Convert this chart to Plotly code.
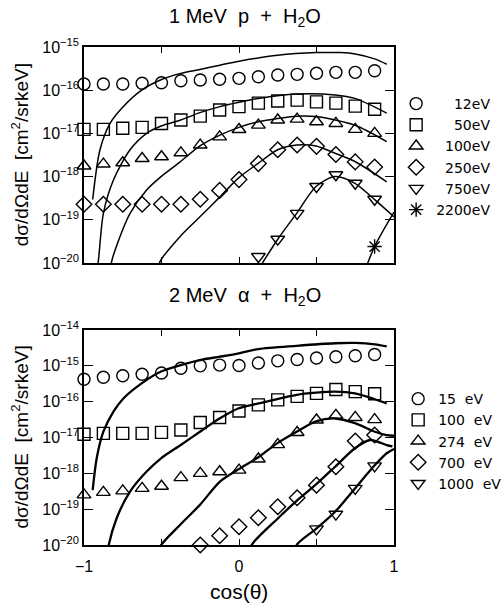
import plotly.graph_objects as go

# ---------------- data ----------------
COS = [-1.0, -0.875, -0.75, -0.625, -0.5, -0.375, -0.25, -0.125,
       0.0, 0.125, 0.25, 0.375, 0.5, 0.625, 0.75, 0.875]

# Top panel: 1 MeV p + H2O (measured points)
p_12 = [1.39e-16, 1.39e-16, 1.39e-16, 1.45e-16, 1.49e-16, 1.66e-16, 1.72e-16, 1.79e-16,
        1.88e-16, 2.05e-16, 2.25e-16, 2.33e-16, 2.46e-16, 2.59e-16, 2.59e-16, 2.82e-16]
p_50 = [1.24e-17, 1.24e-17, 1.32e-17, 1.38e-17, 1.70e-17, 2.04e-17, 2.51e-17, 3.47e-17,
        4.17e-17, 5.01e-17, 5.62e-17, 5.89e-17, 5.37e-17, 5.01e-17, 4.27e-17, 3.63e-17]
p_100 = [1.76e-18, 1.95e-18, 2.09e-18, 2.63e-18, 2.88e-18, 3.55e-18, 5.37e-18, 8.32e-18,
         1.23e-17, 1.55e-17, 2.04e-17, 2.14e-17, 1.86e-17, 1.70e-17, 1.24e-17, 1.00e-17]
p_250 = [2.29e-19, 2.29e-19, 2.29e-19, 2.29e-19, 2.29e-19, 2.29e-19, 2.99e-19, 4.79e-19,
         8.51e-19, 2.00e-18, 4.17e-18, 5.37e-18, 5.01e-18, 3.24e-18, 2.19e-18, 1.66e-18]
p_750_x = [0.125, 0.25, 0.375, 0.5, 0.625, 0.75, 0.875]
p_750 = [1.41e-20, 3.55e-20, 1.41e-19, 5.89e-19, 1.10e-18, 7.00e-19, 2.99e-19]
p_2200_x = [0.875]
p_2200 = [2.40e-20]

# Top panel theory curves
c12_x = [-0.944, -0.897, -0.832, -0.746, -0.628, -0.503, -0.376, -0.252, -0.123, 0.0,
         0.25, 0.5, 0.65, 0.75, 0.88, 0.953]
c12_y = [2.95e-19, 4.17e-18, 1.70e-17, 4.17e-17, 1.00e-16, 1.74e-16, 2.45e-16, 3.02e-16,
         3.80e-16, 4.68e-16, 6.46e-16, 7.41e-16, 7.41e-16, 6.92e-16, 5.25e-16, 3.98e-16]
c50_x = [-0.92, -0.908, -0.875, -0.81, -0.703, -0.596, -0.503, -0.376, -0.252, -0.123,
         0.0, 0.125, 0.372, 0.62, 0.748, 0.953]
c50_y = [6.31e-21, 1.07e-20, 1.41e-19, 8.32e-19, 4.17e-18, 1.00e-17, 1.48e-17, 2.04e-17,
         3.02e-17, 4.17e-17, 5.25e-17, 6.46e-17, 8.13e-17, 7.76e-17, 6.46e-17, 2.95e-17]
c100_x = [-0.83, -0.822, -0.768, -0.703, -0.596, -0.503, -0.376, -0.252, -0.123, 0.0,
          0.125, 0.372, 0.497, 0.748, 0.953]
c100_y = [6.31e-21, 1.07e-20, 4.07e-20, 1.41e-19, 4.90e-19, 1.00e-18, 2.24e-18, 5.13e-18,
          9.12e-18, 1.38e-17, 1.86e-17, 2.51e-17, 2.45e-17, 1.55e-17, 6.46e-18]
c250_x = [-0.52, -0.51, -0.381, -0.252, -0.123, -0.006, 0.125, 0.25, 0.372, 0.497,
          0.62, 0.748, 0.953]
c250_y = [6.31e-21, 1.07e-20, 4.07e-20, 1.17e-19, 3.39e-19, 9.12e-19, 2.04e-18, 4.17e-18,
          5.37e-18, 5.13e-18, 3.47e-18, 2.24e-18, 7.59e-19]
c750_x = [0.125, 0.25, 0.372, 0.497, 0.62, 0.748, 0.877, 1.0]
c750_y = [7.08e-21, 3.55e-20, 1.41e-19, 5.89e-19, 1.00e-18, 7.00e-19, 2.88e-19, 1.17e-19]
c2200_x = [0.815, 0.877, 1.0]
c2200_y = [7.08e-21, 2.51e-20, 1.51e-19]

# Bottom panel: 2 MeV alpha + H2O (measured points)
a_15 = [4.24e-16, 4.79e-16, 5.27e-16, 5.83e-16, 6.31e-16, 8.53e-16, 1.00e-15, 1.05e-15,
        1.02e-15, 1.20e-15, 1.38e-15, 1.50e-15, 1.66e-15, 1.80e-15, 1.91e-15, 2.07e-15]
a_100 = [1.23e-17, 1.30e-17, 1.30e-17, 1.30e-17, 1.39e-17, 1.62e-17, 2.63e-17, 3.63e-17,
         5.50e-17, 8.13e-17, 1.12e-16, 1.41e-16, 1.70e-16, 2.19e-16, 1.91e-16, 1.66e-16]
a_274 = [2.51e-19, 2.95e-19, 3.24e-19, 3.80e-19, 4.37e-19, 7.59e-19, 1.00e-18, 1.11e-18,
         1.23e-18, 2.51e-18, 6.31e-18, 1.38e-17, 3.09e-17, 4.17e-17, 3.63e-17, 3.16e-17]
a_700_x = [-0.25, -0.125, 0.0, 0.125, 0.25, 0.375, 0.5, 0.625, 0.75, 0.875]
a_700 = [1.00e-20, 1.82e-20, 3.24e-20, 5.75e-20, 1.17e-19, 2.09e-19, 4.68e-19, 1.53e-18,
         7.94e-18, 1.17e-17]
a_1000_x = [0.5, 0.625, 0.75, 0.875]
a_1000 = [2.82e-20, 7.24e-20, 3.80e-19, 1.62e-18]

# Bottom panel theory curves
d15_x = [-0.944, -0.918, -0.875, -0.81, -0.746, -0.628, -0.503, -0.376, -0.252, -0.123,
         0.0, 0.125, 0.372, 0.62, 0.75, 0.877, 0.953]
d15_y = [3.39e-19, 2.63e-18, 1.45e-17, 5.25e-17, 1.23e-16, 3.24e-16, 6.92e-16, 1.05e-15,
         1.45e-15, 1.80e-15, 2.24e-15, 2.95e-15, 3.63e-15, 4.27e-15, 4.37e-15, 3.98e-15,
         3.47e-15]
d100_x = [-0.85, -0.843, -0.79, -0.703, -0.596, -0.503, -0.376, -0.252, -0.123, -0.006,
          0.125, 0.372, 0.497, 0.62, 0.748, 0.877, 0.953]
d100_y = [5.01e-21, 8.91e-21, 5.50e-20, 3.09e-19, 1.12e-18, 2.63e-18, 6.17e-18, 1.45e-17,
          3.43e-17, 6.46e-17, 8.91e-17, 1.55e-16, 1.78e-16, 1.91e-16, 1.70e-16, 1.17e-16,
          8.91e-17]
d274_x = [-0.52, -0.51, -0.381, -0.252, -0.123, 0.0, 0.125, 0.25, 0.372, 0.497,
          0.62, 0.748, 0.877, 0.953, 1.0]
d274_y = [5.01e-21, 8.91e-21, 3.63e-20, 1.32e-19, 5.89e-19, 1.32e-18, 2.82e-18, 7.08e-18,
          1.45e-17, 2.82e-17, 3.39e-17, 2.51e-17, 1.45e-17, 1.17e-17, 1.12e-17]
d700_x = [0.07, 0.082, 0.25, 0.372, 0.497, 0.62, 0.748, 0.845, 0.953, 0.99]
d700_y = [5.01e-21, 1.00e-20, 5.50e-20, 1.70e-19, 4.90e-19, 1.53e-18, 5.01e-18, 8.51e-18,
          6.17e-18, 5.62e-18]
d1000_x = [0.36, 0.372, 0.497, 0.62, 0.748, 0.877, 0.953, 1.0]
d1000_y = [5.01e-21, 1.00e-20, 2.82e-20, 8.51e-20, 3.80e-19, 1.70e-18, 3.63e-18, 4.79e-18]

top_labels = ["\u2007\u200712eV", "\u2007\u200750eV", "\u2007100eV", "\u2007250eV",
              "\u2007750eV", "2200eV"]
bot_labels = ["15\u00a0\u00a0eV", "100\u00a0\u00a0eV", "274\u00a0\u00a0eV",
              "700\u00a0\u00a0eV", "1000\u00a0\u00a0eV"]
symbols = ["circle-open", "square-open", "triangle-up-open", "diamond-open",
           "triangle-down-open", "asterisk-open"]

top_tick_exp = [-20, -19, -18, -17, -16, -15]
bot_tick_exp = [-20, -19, -18, -17, -16, -15, -14]

# ---------------- figure ----------------
FONT = "Liberation Sans, Arial, sans-serif"
LFONT = "DejaVu Sans, Liberation Sans, sans-serif"
fig = go.Figure()

def add_curve(x, y, xa, ya, w):
    fig.add_trace(go.Scatter(x=x, y=y, mode="lines",
                             line=dict(color="black", width=w, shape="spline", smoothing=0.8),
                             xaxis=xa, yaxis=ya, showlegend=False, hoverinfo="skip"))

def add_pts(x, y, xa, ya, sym, name, legend):
    fig.add_trace(go.Scatter(x=x, y=y, mode="markers", name=name, legend=legend,
                             marker=dict(symbol=sym, size=12, color="black",
                                         line=dict(color="black", width=1.4)),
                             xaxis=xa, yaxis=ya, cliponaxis=False))

# top curves
for cx, cy in [(c12_x, c12_y), (c50_x, c50_y), (c100_x, c100_y), (c250_x, c250_y),
               (c750_x, c750_y), (c2200_x, c2200_y)]:
    add_curve(cx, cy, "x", "y", 1.5)
top_pts = [(COS, p_12), (COS, p_50), (COS, p_100), (COS, p_250), (p_750_x, p_750),
           (p_2200_x, p_2200)]
for (px, py), sym, lab in zip(top_pts, symbols, top_labels):
    add_pts(px, py, "x", "y", sym, lab, "legend")

# bottom curves
for cx, cy in [(d15_x, d15_y), (d100_x, d100_y), (d274_x, d274_y), (d700_x, d700_y),
               (d1000_x, d1000_y)]:
    add_curve(cx, cy, "x2", "y2", 2.3)
bot_pts = [(COS, a_15), (COS, a_100), (COS, a_274), (a_700_x, a_700), (a_1000_x, a_1000)]
for (px, py), sym, lab in zip(bot_pts, symbols[:5], bot_labels):
    add_pts(px, py, "x2", "y2", sym, lab, "legend2")

axis_common = dict(showline=True, linecolor="black", linewidth=1.5, mirror="ticks",
                   ticks="inside", tickcolor="black", tickwidth=1.3, showgrid=False,
                   zeroline=False, tickfont=dict(family=FONT, size=16, color="black"))

fig.update_layout(
    width=504, height=609,
    margin=dict(l=84, r=110, t=47, b=64, autoexpand=False),
    paper_bgcolor="white", plot_bgcolor="white",
    font=dict(family=FONT, color="black"),
    xaxis=dict(domain=[0, 1], range=[-1, 1], anchor="y", tickvals=[-0.5, 0, 0.5],
               showticklabels=False, ticklen=6, **axis_common),
    yaxis=dict(domain=[0.5663, 1], type="log", range=[-20, -15], anchor="x",
               tickvals=[10.0 ** e for e in top_tick_exp],
               ticktext=["10<sup>\u2212%d</sup>" % (-e) for e in top_tick_exp],
               ticklen=9, **axis_common),
    xaxis2=dict(domain=[0, 1], range=[-1, 1], anchor="y2", tickvals=[-1, -0.5, 0, 0.5, 1],
                ticktext=["\u22121", "", "0", "", "1"], ticklen=6, ticklabelstandoff=6,
                **axis_common),
    yaxis2=dict(domain=[0, 0.4317], type="log", range=[-20, -14], anchor="x2",
                tickvals=[10.0 ** e for e in bot_tick_exp],
                ticktext=["10<sup>\u2212%d</sup>" % (-e) for e in bot_tick_exp],
                ticklen=9, **axis_common),
    legend=dict(x=0.786, y=0.8555, xref="container", yref="container",
                xanchor="left", yanchor="top", bgcolor="rgba(0,0,0,0)",
                font=dict(family=LFONT, size=14, color="black"), tracegroupgap=0),
    legend2=dict(x=0.79, y=0.371, xref="container", yref="container",
                 xanchor="left", yanchor="top", bgcolor="rgba(0,0,0,0)",
                 font=dict(family=LFONT, size=14, color="black"), tracegroupgap=0),
    annotations=[
        dict(text="1 MeV  p  +  H<sub>2</sub>O", x=0.52, y=1.06, xref="paper", yref="paper",
             showarrow=False, xanchor="center", yanchor="middle",
             font=dict(family=FONT, size=20, color="black")),
        dict(text="2 MeV  \u03b1  +  H<sub>2</sub>O", x=0.52, y=0.498, xref="paper", yref="paper",
             showarrow=False, xanchor="center", yanchor="middle",
             font=dict(family=FONT, size=20, color="black")),
        dict(text="d\u03c3/d\u03a9dE  [cm<sup>2</sup>/srkeV]", x=-0.206, y=0.783, xref="paper",
             yref="paper", showarrow=False, textangle=-90, xanchor="center", yanchor="middle",
             font=dict(family=FONT, size=19, color="black")),
        dict(text="d\u03c3/d\u03a9dE  [cm<sup>2</sup>/srkeV]", x=-0.206, y=0.216, xref="paper",
             yref="paper", showarrow=False, textangle=-90, xanchor="center", yanchor="middle",
             font=dict(family=FONT, size=19, color="black")),
        dict(text="cos(\u03b8)", x=0.5, y=-0.094, xref="paper", yref="paper",
             showarrow=False, xanchor="center", yanchor="middle",
             font=dict(family=FONT, size=21, color="black")),
    ],
)

fig.write_html("out.html")
